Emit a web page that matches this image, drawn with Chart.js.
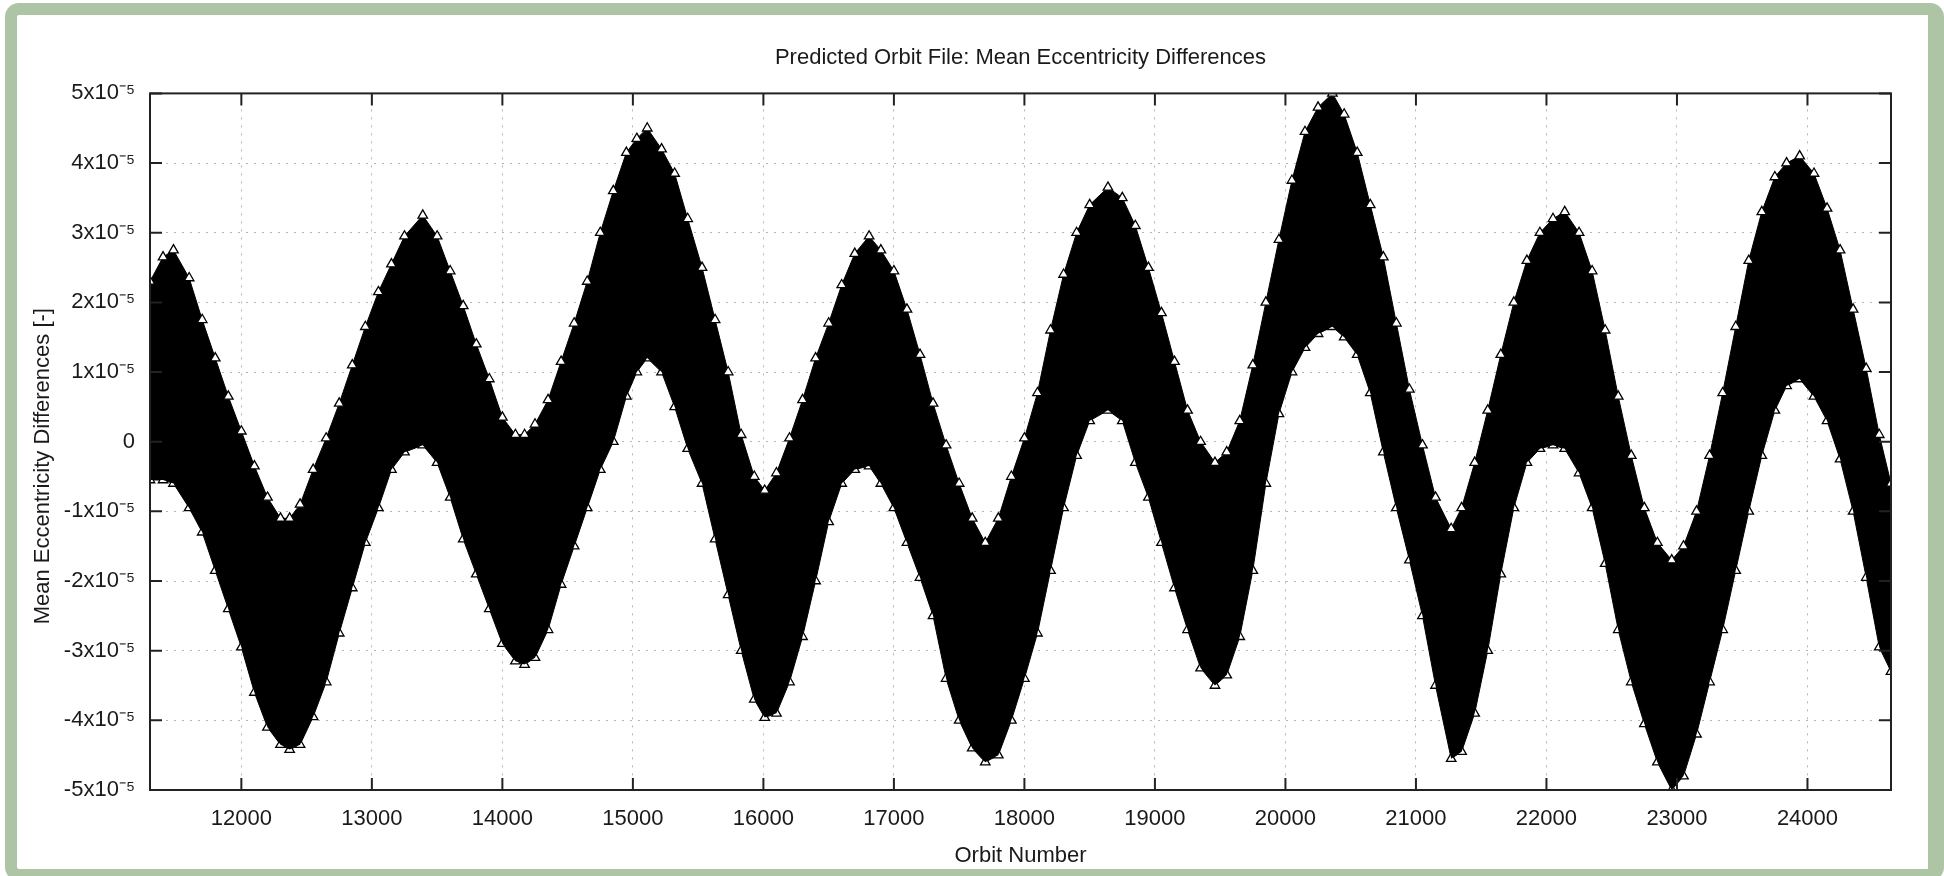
<!DOCTYPE html>
<html>
<head>
<meta charset="utf-8">
<title>Predicted Orbit File: Mean Eccentricity Differences</title>
<script src="https://cdn.jsdelivr.net/npm/chart.js@4.4.0/dist/chart.umd.min.js"></script>
<style>
    html, body { margin: 0; padding: 0; background: #fff; width: 1944px; height: 876px; overflow: hidden; }
    .frame {
        position: absolute; left: 5px; top: 3px;
        width: 1911px; height: 854px;
        border: 12px solid #adc4a5; border-right-width: 16px;
        border-radius: 14px; background: #fff;
    }
    canvas { display: block; }
</style>
</head>
<body>
<div class="frame"><canvas id="orbitChart" width="1911" height="854"></canvas></div>
<script>
// --- 1. DATA (values in units of 1e-5) ---
const chartTitle = 'Predicted Orbit File: Mean Eccentricity Differences';
const xAxisTitle = 'Orbit Number';
const yAxisTitle = 'Mean Eccentricity Differences [-]';

const xTickValues = [12000, 13000, 14000, 15000, 16000, 17000, 18000, 19000, 20000, 21000, 22000, 23000, 24000];
const xTickLabels = ['12000', '13000', '14000', '15000', '16000', '17000', '18000', '19000', '20000', '21000', '22000', '23000', '24000'];
const yTickValues = [-5, -4, -3, -2, -1, 0, 1, 2, 3, 4, 5];
const yTickLabels = ['-5x10⁻⁵', '-4x10⁻⁵', '-3x10⁻⁵', '-2x10⁻⁵', '-1x10⁻⁵', '0',
                     '1x10⁻⁵', '2x10⁻⁵', '3x10⁻⁵', '4x10⁻⁵', '5x10⁻⁵'];

// orbit numbers where the edges of the triangle cloud were read
const orbitNumbers = [
    11300, 11400, 11480, 11600, 11700, 11800, 11900, 12000, 12100, 12200, 12300, 12370,
    12450, 12550, 12650, 12750, 12850, 12950, 13050, 13150, 13250, 13390,
    13500, 13600, 13700, 13800, 13900, 14000, 14100, 14170,
    14250, 14350, 14450, 14550, 14650, 14750, 14850, 14950, 15030, 15110,
    15220, 15320, 15420, 15530, 15630, 15730, 15830, 15930, 16010,
    16100, 16200, 16300, 16400, 16500, 16600, 16700, 16810,
    16900, 17000, 17100, 17200, 17300, 17400, 17500, 17600, 17700,
    17800, 17900, 18000, 18100, 18200, 18300, 18400, 18500, 18640,
    18750, 18850, 18950, 19050, 19150, 19250, 19350, 19460,
    19550, 19650, 19750, 19850, 19950, 20050, 20150, 20250, 20360,
    20450, 20550, 20650, 20750, 20850, 20950, 21050, 21150, 21270,
    21350, 21450, 21550, 21650, 21750, 21850, 21950, 22050, 22140,
    22250, 22350, 22450, 22550, 22650, 22750, 22850, 22960,
    23050, 23150, 23250, 23350, 23450, 23550, 23650, 23750, 23840, 23940,
    24050, 24150, 24250, 24350, 24450, 24550, 24640
];

// top edge of the cloud
const upperEnvelope = [
    2.3, 2.65, 2.75, 2.35, 1.75, 1.2, 0.65, 0.15, -0.35, -0.8, -1.1, -1.1,
    -0.9, -0.4, 0.05, 0.55, 1.1, 1.65, 2.15, 2.55, 2.95, 3.25,
    2.95, 2.45, 1.95, 1.4, 0.9, 0.35, 0.1, 0.1,
    0.25, 0.6, 1.15, 1.7, 2.3, 3.0, 3.6, 4.15, 4.35, 4.5,
    4.2, 3.85, 3.2, 2.5, 1.75, 1.0, 0.1, -0.5, -0.7,
    -0.45, 0.05, 0.6, 1.2, 1.7, 2.25, 2.7, 2.95,
    2.75, 2.45, 1.9, 1.25, 0.55, -0.05, -0.6, -1.1, -1.45,
    -1.1, -0.5, 0.05, 0.7, 1.6, 2.4, 3.0, 3.4, 3.65,
    3.5, 3.1, 2.5, 1.85, 1.15, 0.45, 0.0, -0.3,
    -0.15, 0.3, 1.1, 2.0, 2.9, 3.75, 4.45, 4.8, 5.0,
    4.7, 4.15, 3.4, 2.65, 1.7, 0.75, -0.05, -0.8, -1.25,
    -0.95, -0.3, 0.45, 1.25, 2.0, 2.6, 3.0, 3.2, 3.3,
    3.0, 2.45, 1.6, 0.65, -0.2, -0.95, -1.45, -1.7,
    -1.5, -1.0, -0.2, 0.7, 1.65, 2.6, 3.3, 3.8, 4.0, 4.1,
    3.85, 3.35, 2.75, 1.9, 1.05, 0.1, -0.6
];

// bottom edge of the cloud
const lowerEnvelope = [
    -0.55, -0.55, -0.6, -0.95, -1.3, -1.85, -2.4, -2.95, -3.6, -4.1, -4.35, -4.42,
    -4.35, -3.95, -3.45, -2.75, -2.1, -1.45, -0.95, -0.4, -0.15, -0.05,
    -0.3, -0.8, -1.4, -1.9, -2.4, -2.9, -3.15, -3.2,
    -3.1, -2.7, -2.05, -1.5, -0.95, -0.4, 0.0, 0.65, 1.0, 1.2,
    1.0, 0.5, -0.1, -0.6, -1.4, -2.2, -3.0, -3.7, -3.96,
    -3.9, -3.45, -2.8, -2.0, -1.15, -0.6, -0.4, -0.35,
    -0.6, -0.95, -1.45, -1.95, -2.5, -3.4, -4.0, -4.4, -4.6,
    -4.5, -4.0, -3.4, -2.75, -1.85, -0.95, -0.2, 0.3, 0.45,
    0.3, -0.3, -0.8, -1.45, -2.1, -2.7, -3.25, -3.5,
    -3.35, -2.8, -1.85, -0.6, 0.4, 1.0, 1.35, 1.55, 1.65,
    1.5, 1.25, 0.7, -0.15, -0.95, -1.7, -2.5, -3.5, -4.55,
    -4.45, -3.9, -3.0, -1.9, -0.95, -0.3, -0.1, -0.05, -0.1,
    -0.45, -0.95, -1.75, -2.7, -3.45, -4.05, -4.6, -5.0,
    -4.8, -4.2, -3.45, -2.7, -1.85, -1.0, -0.2, 0.45, 0.8, 0.9,
    0.65, 0.3, -0.25, -1.0, -1.95, -2.95, -3.3
];

// --- 2. CHART ---
const FONT = "'Liberation Sans', Arial, Helvetica, sans-serif";
const TEXT = '#1a1a1a';

// gnuplot-style box with inward ticks on all four sides
const frameTicks = {
    id: 'frameTicks',
    afterDatasetsDraw(chart) {
        const { ctx, chartArea: a, scales } = chart;
        const len = 12;
        ctx.save();
        ctx.strokeStyle = '#222';
        ctx.lineWidth = 2;
        ctx.beginPath();
        xTickValues.forEach(v => {
            const px = scales.x.getPixelForValue(v);
            ctx.moveTo(px, a.bottom); ctx.lineTo(px, a.bottom - len);
            ctx.moveTo(px, a.top); ctx.lineTo(px, a.top + len);
        });
        yTickValues.forEach(v => {
            const py = scales.y.getPixelForValue(v);
            ctx.moveTo(a.left, py); ctx.lineTo(a.left + len, py);
            ctx.moveTo(a.right, py); ctx.lineTo(a.right - len, py);
        });
        ctx.stroke();
        ctx.strokeRect(a.left, a.top, a.right - a.left, a.bottom - a.top);
        ctx.restore();
    }
};

const pointStyle = {
    borderColor: '#000',
    borderWidth: 1,
    backgroundColor: '#000',
    pointStyle: 'triangle',
    pointRadius: 5.5,
    pointBorderColor: '#000',
    pointBackgroundColor: '#fff',
    pointBorderWidth: 1.3,
    tension: 0
};

const ctx = document.getElementById('orbitChart').getContext('2d');
const chart = new Chart(ctx, {
    type: 'line',
    data: {
        datasets: [
            Object.assign({
                label: 'upper',
                data: orbitNumbers.map((o, i) => ({ x: o, y: upperEnvelope[i] })),
                fill: '+1'
            }, pointStyle),
            Object.assign({
                label: 'lower',
                data: orbitNumbers.map((o, i) => ({ x: o, y: lowerEnvelope[i] })),
                fill: false
            }, pointStyle)
        ]
    },
    options: {
        responsive: false,
        animation: false,
        layout: { padding: { left: 0, right: 37, top: 0, bottom: 0 } },
        plugins: {
            legend: { display: false },
            tooltip: { enabled: false },
            title: {
                display: true,
                text: chartTitle,
                fullSize: false,
                color: TEXT,
                font: { family: FONT, size: 22, weight: 'normal' },
                padding: { top: 30, bottom: 22 }
            }
        },
        scales: {
            x: {
                type: 'linear',
                min: 11300,
                max: 24640,
                afterBuildTicks: s => { s.ticks = xTickValues.map(v => ({ value: v })); },
                afterFit: s => { s.height = 79; },
                grid: { color: '#b4b4b4', lineWidth: 1, drawTicks: false },
                border: { display: false, dash: [2, 6] },
                ticks: {
                    callback: (v, i) => xTickLabels[i],
                    color: TEXT,
                    font: { family: FONT, size: 22 },
                    padding: 16,
                    maxRotation: 0,
                    autoSkip: false
                },
                title: {
                    display: true,
                    text: xAxisTitle,
                    color: TEXT,
                    font: { family: FONT, size: 22 },
                    padding: { top: 0, bottom: 0 }
                }
            },
            y: {
                type: 'linear',
                min: -5,
                max: 5,
                afterBuildTicks: s => { s.ticks = yTickValues.map(v => ({ value: v })); },
                afterFit: s => { s.width = 133; },
                grid: { color: '#b4b4b4', lineWidth: 1, drawTicks: false },
                border: { display: false, dash: [2, 6] },
                ticks: {
                    callback: (v, i) => yTickLabels[i],
                    color: TEXT,
                    font: { family: FONT, size: 22 },
                    padding: 15,
                    autoSkip: false
                },
                title: {
                    display: true,
                    // trailing spaces push the label down, as in the original
                    text: yAxisTitle + '        ',
                    color: TEXT,
                    font: { family: FONT, size: 22 },
                    padding: { top: 13, bottom: 0 }
                }
            }
        }
    },
    plugins: [frameTicks]
});
</script>
</body>
</html>
